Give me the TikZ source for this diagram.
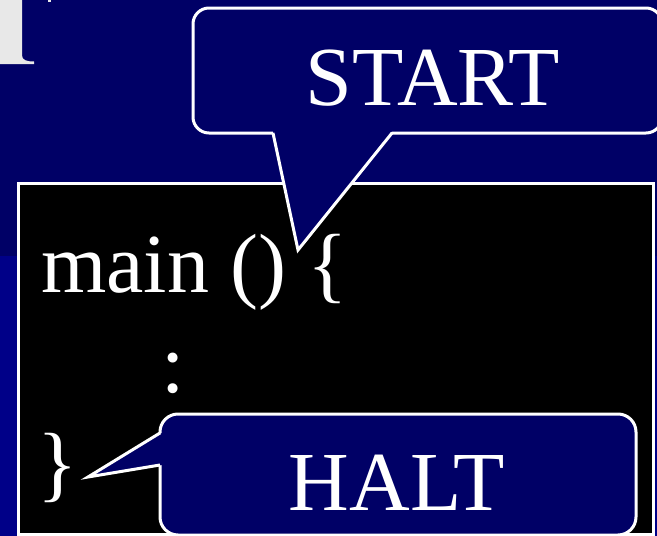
\documentclass[tikz,border=0pt]{standalone}
\usepackage{fontspec}
\setmainfont{Liberation Serif}
\usetikzlibrary{positioning}
\definecolor{navy}{HTML}{000066}
\definecolor{slideblue}{HTML}{000088}
\definecolor{titlegray}{HTML}{E8E8E8}

\begin{document}
\begin{tikzpicture}[x=1pt,y=-1pt,
    every node/.style={text=white,inner sep=0pt,font=\fontsize{84}{90}\selectfont},
    balloon/.style={draw=white,line width=3pt,fill=navy},
    pointer/.style={draw=white,line width=3pt,line join=miter}]
\useasboundingbox (0,0) rectangle (657,536);
\fill[navy] (0,0) rectangle (657,536);
\fill[slideblue] (0,256) rectangle (657,536);
% foot of the title letter
\fill[titlegray] (0,0) -- (22,0) -- (22,55) .. controls (22,60) and (26,61.5) .. (34,61.5)
    -- (34,64) -- (0,64) -- cycle;
\fill[titlegray] (48,0) rectangle (51,2);

% the code panel
\draw[white,line width=3pt,fill=black] (18.5,183.5) rectangle (653.5,534.5);
\begin{scope}[every node/.append style={anchor=base west}]
    \node (main) at (41,292) {main () \{};
    \node (dots) at (161,392) {:};
    \node (close) at (37,491) {\}};
\end{scope}

% START balloon
\draw[balloon,rounded corners=16pt] (193,8) rectangle (662,133);
\node[anchor=base] (start) at (433,105) {START};
\coordinate (start tip) at (298,250);
\fill[navy] (273,131) -- (start tip) -- (392,131) -- cycle;
\draw[pointer] (273,133) -- (start tip) -- (392,133);

% HALT balloon
\draw[balloon,rounded corners=18pt] (160,414) rectangle (636,535);
\node[anchor=base] (halt) at (397,510) {HALT};
\coordinate (halt tip) at (88,477);
\fill[navy] (162,433) -- (halt tip) -- (162,465) -- cycle;
\draw[pointer] (160,433) -- (halt tip) -- (160,465);
\end{tikzpicture}
\end{document}
